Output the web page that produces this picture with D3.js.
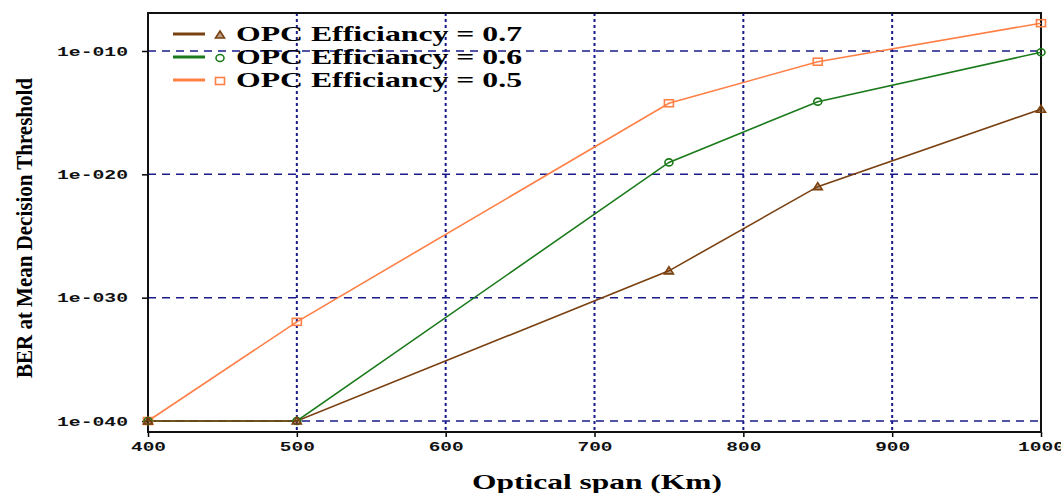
<!DOCTYPE html>
<html>
<head>
<meta charset="utf-8">
<script src="https://cdn.jsdelivr.net/npm/d3@7"></script>
<style>
  html, body { margin: 0; padding: 0; background: #fff; }
  svg { display: block; }
</style>
</head>
<body>
<svg id="chart" width="1061" height="493"></svg>
<script>
// Optical span sweep (km) and BER at mean decision threshold per OPC efficiency
const spanKm = [400, 500, 750, 850, 1000];
const berEff07 = [1e-40, 1e-40, 1.5e-28, 1e-21, 1.9e-15];
const berEff06 = [1e-40, 1e-40, 9.3e-20, 7.8e-15, 7.9e-11];
const berEff05 = [1e-40, 1.1e-32, 5.8e-15, 1.35e-11, 1.8e-8];

const seriesNames = ["OPC Efficiancy = 0.7", "OPC Efficiancy = 0.6", "OPC Efficiancy = 0.5"];
const xTicks = [400, 500, 600, 700, 800, 900, 1000];
const yTicks = [1e-40, 1e-30, 1e-20, 1e-10];
const yTickLabels = ["1e-040", "1e-030", "1e-020", "1e-010"];

const series = [
  { name: seriesNames[2], values: berEff05, color: "#ff7f45", marker: "square" },
  { name: seriesNames[1], values: berEff06, color: "#1b7a1b", marker: "circle" },
  { name: seriesNames[0], values: berEff07, color: "#7a4010", marker: "triangle" }
];

const svg = d3.select("#chart");
const plot = { left: 148, right: 1041, top: 13, bottom: 432 };

const x = d3.scaleLinear().domain([400, 1000]).range([plot.left, plot.right]);
const y = d3.scaleLog().domain([Math.pow(10, -40.89), Math.pow(10, -6.92)]).range([plot.bottom, plot.top]);

const gridColor = "#1a1a8a";

// vertical dotted grid
svg.append("g").selectAll("line")
  .data(xTicks.slice(1, -1))
  .join("line")
  .attr("x1", d => x(d)).attr("x2", d => x(d))
  .attr("y1", plot.top).attr("y2", plot.bottom)
  .attr("stroke", gridColor).attr("stroke-width", 2)
  .attr("stroke-dasharray", "3,3");

// horizontal dashed grid
svg.append("g").selectAll("line")
  .data(yTicks)
  .join("line")
  .attr("x1", plot.left).attr("x2", plot.right)
  .attr("y1", d => y(d)).attr("y2", d => y(d))
  .attr("stroke", gridColor).attr("stroke-width", 1.5)
  .attr("stroke-dasharray", "8,6");

// axes
const tickFont = "'Liberation Mono', 'DejaVu Sans Mono', monospace";
const xAxis = d3.axisBottom(x).tickValues(xTicks).tickSize(5).tickPadding(4).tickFormat(d3.format("d"));
const gx = svg.append("g").attr("transform", `translate(0,${plot.bottom})`).call(xAxis);
const yAxis = d3.axisLeft(y).tickValues(yTicks).tickSize(6).tickPadding(14)
  .tickFormat((d, i) => yTickLabels[i]);
const gy = svg.append("g").attr("transform", `translate(${plot.left},0)`).call(yAxis);

[gx, gy].forEach(g => {
  g.select(".domain").remove();
  g.selectAll(".tick line").attr("stroke", "#000").attr("stroke-width", 1.5);
  g.selectAll(".tick text")
    .attr("fill", "#111")
    .style("font-family", tickFont)
    .style("font-size", "12px")
    .style("font-weight", "bold")
    .attr("lengthAdjust", "spacingAndGlyphs")
    .attr("textLength", function () { return this.textContent.length * 12 - 1; });
});
gx.selectAll(".tick text").attr("dy", "0.8em");
gy.selectAll(".tick text").attr("dy", "0.35em");

// frame
svg.append("rect")
  .attr("x", plot.left).attr("y", plot.top)
  .attr("width", plot.right - plot.left).attr("height", plot.bottom - plot.top)
  .attr("fill", "none").attr("stroke", "#111").attr("stroke-width", 2);

// series lines
const line = d3.line().x((d, i) => x(spanKm[i])).y(d => y(d));
svg.append("g").selectAll("path")
  .data(series)
  .join("path")
  .attr("d", s => line(s.values))
  .attr("fill", "none")
  .attr("stroke", s => s.color)
  .attr("stroke-width", 1.6);

// marker drawing
function drawMarker(g, type, cx, cy, color) {
  if (type === "square") {
    g.append("rect").attr("x", cx - 4.5).attr("y", cy - 3.5).attr("width", 9).attr("height", 7)
      .attr("fill", "none").attr("stroke", color).attr("stroke-width", 1.6);
  } else if (type === "circle") {
    g.append("ellipse").attr("cx", cx).attr("cy", cy).attr("rx", 4).attr("ry", 3.5)
      .attr("fill", "none").attr("stroke", color).attr("stroke-width", 1.6);
  } else {
    g.append("path").attr("d", `M${cx - 4.5},${cy + 3} L${cx + 4.5},${cy + 3} L${cx},${cy - 4} Z`)
      .attr("fill", color).attr("fill-opacity", 0.5).attr("stroke", color).attr("stroke-width", 1.6);
  }
}

const markers = svg.append("g");
series.forEach(s => {
  s.values.forEach((v, i) => drawMarker(markers, s.marker, x(spanKm[i]), y(v), s.color));
});

// legend
const legendItems = [series[2], series[1], series[0]];
const legend = svg.append("g");
legendItems.forEach((s, i) => {
  const ly = 34 + i * 23;
  legend.append("line").attr("x1", 173).attr("x2", 205).attr("y1", ly).attr("y2", ly)
    .attr("stroke", s.color).attr("stroke-width", 3);
  drawMarker(legend, s.marker, 220, ly + 1, s.color);
  legend.append("text")
    .attr("x", 236).attr("y", ly + 7)
    .attr("textLength", 286).attr("lengthAdjust", "spacingAndGlyphs")
    .style("font-family", "'Liberation Serif', 'Times New Roman', serif")
    .style("font-size", "22px").style("font-weight", "bold")
    .attr("fill", "#000")
    .text(s.name);
});

// axis titles
svg.append("text")
  .attr("x", 597).attr("y", 489)
  .attr("text-anchor", "middle")
  .attr("textLength", 250).attr("lengthAdjust", "spacingAndGlyphs")
  .style("font-family", "'Liberation Serif', 'Times New Roman', serif")
  .style("font-size", "21px").style("font-weight", "bold")
  .attr("fill", "#000")
  .text("Optical span (Km)");

svg.append("text")
  .attr("transform", "translate(32,228) rotate(-90)")
  .attr("text-anchor", "middle")
  .attr("textLength", 300).attr("lengthAdjust", "spacingAndGlyphs")
  .style("font-family", "'Liberation Serif', 'Times New Roman', serif")
  .style("font-size", "24px").style("font-weight", "bold")
  .attr("fill", "#000")
  .text("BER at Mean Decision Threshold");
</script>
</body>
</html>
